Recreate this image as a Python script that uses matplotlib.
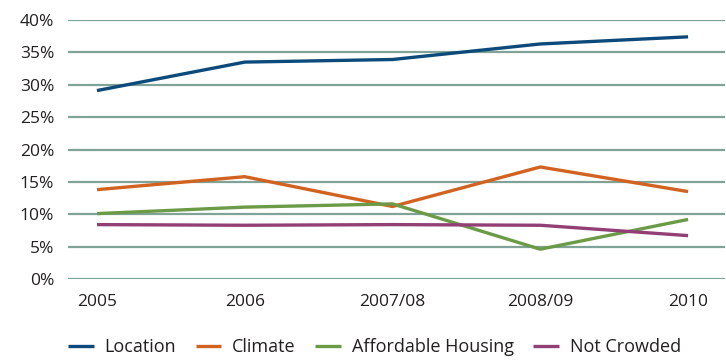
import matplotlib
matplotlib.use("Agg")
import matplotlib.pyplot as plt

years = ["2005", "2006", "2007/08", "2008/09", "2010"]
location = [29.1, 33.5, 33.9, 36.3, 37.4]
climate = [13.8, 15.8, 11.2, 17.3, 13.5]
affordable = [10.1, 11.1, 11.6, 4.6, 9.2]
not_crowded = [8.4, 8.3, 8.4, 8.3, 6.7]

names = ["Location", "Climate", "Affordable Housing", "Not Crowded"]
colors = ["#0c4a7b", "#d2621f", "#6b9b47", "#923f76"]

plt.rcParams["font.family"] = ["Open Sans", "DejaVu Sans"]

fig = plt.figure(figsize=(7.26, 3.6), dpi=100)
ax = fig.add_axes([68 / 726, 1 - 279 / 360, 657 / 726, 259 / 360])

x = list(range(len(years)))
for vals, name, c in zip([location, climate, affordable, not_crowded], names, colors):
    ax.plot(x, vals, color=c, lw=2.4, label=name, solid_capstyle="butt")

ax.set_ylim(0, 40)
ax.set_yticks(range(0, 41, 5))
ax.set_yticklabels([f"{v}%" for v in range(0, 41, 5)])
ax.set_xlim(-0.196, 4.25)
ax.set_xticks(x)
ax.set_xticklabels(years)

for v in range(0, 41, 5):
    ax.axhline(v, color="#7fa397", lw=1.6, zorder=0)

for s in ax.spines.values():
    s.set_visible(False)
ax.tick_params(length=0, labelsize=12.5, colors="#231f20")
ax.tick_params(axis="y", pad=10)
ax.tick_params(axis="x", pad=11)

fig.legend(loc="lower left", bbox_to_anchor=(52 / 726, -0.035), ncol=4, frameon=False,
           fontsize=13, handlelength=1.4, handletextpad=0.6, columnspacing=1.1,
           labelcolor="#231f20")

fig.savefig("out.png", dpi=100)
